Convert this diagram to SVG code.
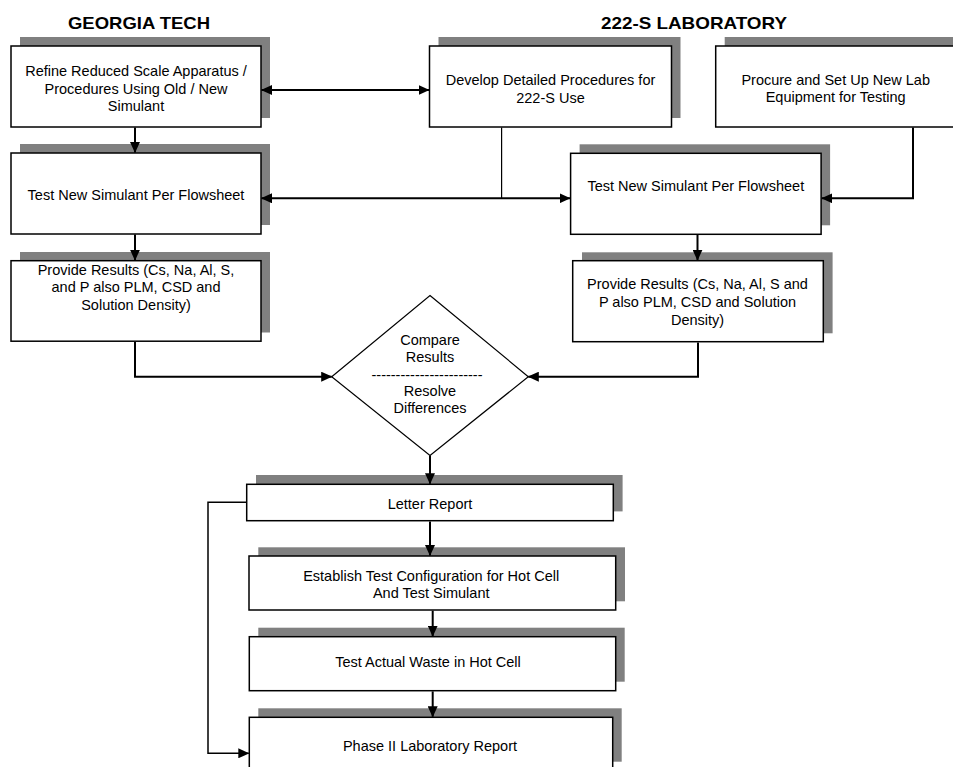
<svg xmlns="http://www.w3.org/2000/svg" width="953" height="767" viewBox="0 0 953 767">
<style>
.bg{fill:#ffffff}
.sh{fill:#808080}
.box{fill:#ffffff;stroke:#000000;stroke-width:1.5}
.t{font-family:"Liberation Sans",Arial,sans-serif;font-size:14.5px;fill:#000000;text-anchor:middle}
.h{font-family:"Liberation Sans",Arial,sans-serif;font-size:17px;font-weight:bold;fill:#000000;text-anchor:middle}
.c{fill:none;stroke:#000000;stroke-width:2}
.c1{fill:none;stroke:#000000;stroke-width:1.2}
.c15{fill:none;stroke:#000000;stroke-width:1.5}
.ahp{fill:#000000;stroke:none}
</style>
<defs>
<marker id="ar" markerUnits="userSpaceOnUse" markerWidth="11" markerHeight="10" refX="10.5" refY="5" orient="0">
<path class="ahp" d="M0,0 L11,5 L0,10 Z"/>
</marker>
<marker id="al" markerUnits="userSpaceOnUse" markerWidth="11" markerHeight="10" refX="0.5" refY="5" orient="0">
<path class="ahp" d="M11,0 L0,5 L11,10 Z"/>
</marker>
<marker id="ad" markerUnits="userSpaceOnUse" markerWidth="10" markerHeight="11" refX="5" refY="10.5" orient="0">
<path class="ahp" d="M0,0 L5,11 L10,0 Z"/>
</marker>
</defs>
<rect class="bg" x="0" y="0" width="953" height="767"/>

<g id="headers">
<text class="h" x="139" y="28.7" textLength="142" lengthAdjust="spacingAndGlyphs">GEORGIA TECH</text>
<text class="h" x="694" y="28.7" textLength="186" lengthAdjust="spacingAndGlyphs">222-S LABORATORY</text>
</g>

<g id="refine">
<rect class="sh" x="20" y="37" width="250" height="81"/>
<rect class="box" x="11" y="46" width="250" height="81"/>
<text class="t" x="136" y="76">Refine Reduced Scale Apparatus /</text>
<text class="t" x="136" y="93.5">Procedures Using Old / New</text>
<text class="t" x="136" y="111">Simulant</text>
</g>

<g id="develop">
<rect class="sh" x="438.5" y="37" width="242" height="81"/>
<rect class="box" x="429.5" y="46" width="242" height="81"/>
<text class="t" x="550.5" y="85">Develop Detailed Procedures for</text>
<text class="t" x="550.5" y="102.5">222-S Use</text>
</g>

<g id="procure">
<rect class="sh" x="724.7" y="37" width="240" height="81"/>
<rect class="box" x="715.7" y="46" width="240" height="81"/>
<text class="t" x="835.7" y="84.5">Procure and Set Up New Lab</text>
<text class="t" x="835.7" y="102">Equipment for Testing</text>
</g>

<g id="test-gt">
<rect class="sh" x="20" y="144" width="250" height="81"/>
<rect class="box" x="11" y="153" width="250" height="81"/>
<text class="t" x="136" y="200">Test New Simulant Per Flowsheet</text>
</g>

<g id="test-222s">
<rect class="sh" x="579.6" y="144.3" width="250.5" height="81"/>
<rect class="box" x="570.6" y="153.3" width="250.5" height="81"/>
<text class="t" x="695.8" y="190.5">Test New Simulant Per Flowsheet</text>
</g>

<g id="results-gt">
<rect class="sh" x="20" y="252" width="250" height="80.5"/>
<rect class="box" x="11" y="260.7" width="250" height="80.5"/>
<text class="t" x="136" y="274.5">Provide Results (Cs, Na, Al, S,</text>
<text class="t" x="136" y="292">and P also PLM, CSD and</text>
<text class="t" x="136" y="309.5">Solution Density)</text>
</g>

<g id="results-222s">
<rect class="sh" x="582" y="252.3" width="250.6" height="81"/>
<rect class="box" x="572.7" y="260.7" width="250.6" height="81"/>
<text class="t" x="697.5" y="289">Provide Results (Cs, Na, Al, S and</text>
<text class="t" x="697.5" y="307">P also PLM, CSD and Solution</text>
<text class="t" x="697.5" y="325">Density)</text>
</g>

<g id="compare">
<polygon points="430,295.5 528.3,376.7 430,455.5 331.7,376.7" fill="#ffffff" stroke="#000000" stroke-width="1.2"/>
<text class="t" x="430" y="345">Compare</text>
<text class="t" x="430" y="362">Results</text>
<text class="t" x="427" y="380">-----------------------</text>
<text class="t" x="430" y="396">Resolve</text>
<text class="t" x="430" y="413">Differences</text>
</g>

<g id="letter">
<rect class="sh" x="256" y="475" width="366.6" height="36.4"/>
<rect class="box" x="246.7" y="484.3" width="366.6" height="36.4"/>
<text class="t" x="430" y="508.5">Letter Report</text>
</g>

<g id="establish">
<rect class="sh" x="258.3" y="547.3" width="366.7" height="54"/>
<rect class="box" x="249" y="556" width="366.7" height="54"/>
<text class="t" x="431.2" y="580.5">Establish Test Configuration for Hot Cell</text>
<text class="t" x="431.2" y="598">And Test Simulant</text>
</g>

<g id="actual">
<rect class="sh" x="258.3" y="627.7" width="366.4" height="54"/>
<rect class="box" x="249.3" y="636.7" width="366.4" height="54"/>
<text class="t" x="428" y="667">Test Actual Waste in Hot Cell</text>
</g>

<g id="phase2">
<rect class="sh" x="258.3" y="708.3" width="363.4" height="53.4"/>
<rect class="box" x="249.3" y="717.3" width="363.4" height="53.4"/>
<text class="t" x="430" y="751">Phase II Laboratory Report</text>
</g>

<g id="connectors">
<line class="c" x1="261.5" y1="90" x2="429" y2="90" marker-start="url(#al)" marker-end="url(#ar)"/>
<line class="c" x1="135" y1="127.5" x2="135" y2="152.5" marker-end="url(#ad)"/>
<line class="c" x1="261.5" y1="198.3" x2="570" y2="198.3" marker-start="url(#al)" marker-end="url(#ar)"/>
<polyline class="c1" points="501.6,127.5 501.6,198.3"/>
<polyline class="c" points="913,127.5 913,198.3 821.8,198.3" marker-end="url(#al)"/>
<line class="c" x1="135" y1="234.5" x2="135" y2="260.2" marker-end="url(#ad)"/>
<line class="c" x1="697.5" y1="234.8" x2="697.5" y2="260.2" marker-end="url(#ad)"/>
<polyline class="c" points="135,341.9 135,376.7 331.7,376.7" marker-end="url(#ar)"/>
<polyline class="c" points="698,342.4 698,376.7 528.3,376.7" marker-end="url(#al)"/>
<line class="c" x1="430" y1="455.5" x2="430" y2="483.8" marker-end="url(#ad)"/>
<polyline class="c15" points="246,502.3 208,502.3 208,753.3 248.8,753.3" marker-end="url(#ar)"/>
<line class="c" x1="430" y1="521.4" x2="430" y2="555.5" marker-end="url(#ad)"/>
<line class="c" x1="432.7" y1="610.7" x2="432.7" y2="636.2" marker-end="url(#ad)"/>
<line class="c" x1="432.7" y1="691.4" x2="432.7" y2="716.8" marker-end="url(#ad)"/>
</g>
</svg>
